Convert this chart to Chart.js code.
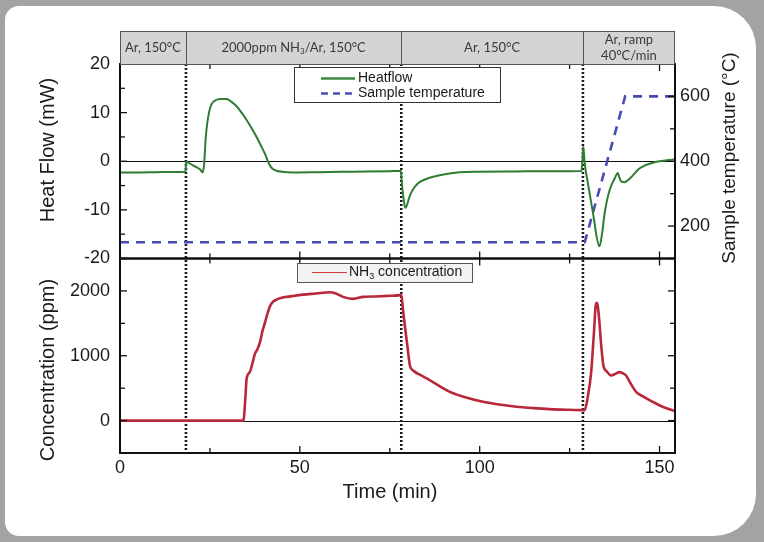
<!DOCTYPE html>
<html>
<head>
<meta charset="utf-8">
<script src="https://cdn.jsdelivr.net/npm/chart.js@4.4.1/dist/chart.umd.min.js"></script>
<style>
  body { margin: 0; background: #a3a3a3; }
  #wrap { position: relative; width: 764px; height: 542px; overflow: hidden; }
  #panel { position: absolute; left: 5px; top: 6px; width: 751px; height: 530px; background: #fff; border-radius: 14px 42px 42px 14px; }
  #chart { position: absolute; left: 0; top: 0; }
</style>
</head>
<body>
<div id="wrap">
  <div id="panel"></div>
  <canvas id="chart" width="764" height="542"></canvas>
</div>
<script>
// time axis (min)
const timeTicks = [0, 50, 100, 150];
const stepTimes = [18.33, 78.2, 128.7]; // gas switching, dotted lines

// heat flow (mW)
const heatTime = [0, 5, 10, 15, 18.2, 18.4, 19.0, 20.4, 21.5, 22.3, 23.0, 23.4, 23.8, 24.2, 24.8, 25.5, 26.5, 27.8, 29.6, 31.0,
  32.4, 33.8, 35.2, 36.6, 37.9, 39.2, 40.3, 41.0, 41.7, 42.5, 43.5, 45.5, 48, 55, 65, 75, 78.1, 78.3, 78.8, 79.3,
  79.8, 80.4, 81, 82, 83.3, 84.6, 86.1, 88.3, 90.7, 94.4, 100, 110, 120, 128.3, 128.6, 128.8, 129.1, 129.4, 130.2, 131.0,
  131.8, 132.5, 133.3, 134.0, 134.7, 135.4, 136.1, 136.8, 137.5, 138.0, 138.4, 138.8, 139.3, 140.3, 141.2, 142.1, 143.2, 144.4, 145.8, 147.2,
  148.6, 150, 152, 154.3];
const heatFlow = [-2.3, -2.3, -2.25, -2.2, -2.15, -0.1, -0.3, -0.9, -1.3, -1.7, -2.3, -0.5, 4.5, 7.5, 10.2, 11.8, 12.5, 12.8, 12.8, 12.2,
  11.3, 10.0, 8.5, 6.8, 5.1, 3.2, 1.5, 0.2, -0.9, -1.6, -1.95, -2.2, -2.3, -2.25, -2.15, -2.05, -2.0, -4, -7.5, -9.6,
  -9.0, -7.5, -6.4, -5.2, -4.3, -3.8, -3.4, -3.0, -2.6, -2.25, -2.15, -2.1, -2.05, -2.0, 0.5, 3.0, 0.5, -1.5, -5, -8.5,
  -12, -15.5, -17.5, -15, -10.9, -8.0, -6.0, -4.6, -3.6, -2.8, -2.4, -3.3, -4.1, -4.3, -3.9, -3.3, -2.4, -1.5, -0.9, -0.5,
  -0.2, 0.0, 0.2, 0.4];
const heatTicks = [-20, -10, 0, 10, 20];

// sample temperature (°C)
const tempTime = [0, 129.2, 140.45, 154.3];
const tempValue = [150, 150, 600, 600];
const tempTicks = [200, 400, 600];

// NH3 concentration (ppm)
const nh3Time = [0, 34.3, 34.8, 35.2, 36.1, 36.8, 37.5, 38.2, 38.9, 39.6, 40.3, 41.0, 41.7, 42.5, 43.5, 45, 46.3, 48.5, 50.9, 54.5,
  58.3, 60, 62, 64.8, 67.6, 71, 75, 77.8, 78.2, 78.7, 79.2, 79.9, 80.6, 81.5, 84, 87, 89.5, 91.7, 96, 100.9,
  105.5, 110.2, 115, 119.4, 124, 129.2, 130, 131, 131.7, 132.4, 132.8, 133.3, 133.8, 134.4, 135.3, 136.6, 137.7, 138.9, 139.8, 140.7,
  142.0, 143.5, 145.5, 148.1, 151, 154.3];
const nh3Conc = [0, 0, 300, 646, 748, 880, 1028, 1100, 1206, 1380, 1511, 1650, 1765, 1830, 1867, 1895, 1908, 1925, 1943, 1960,
  1979, 1960, 1908, 1878, 1908, 1915, 1925, 1935, 1943, 1700, 1460, 1150, 849, 773, 690, 595, 510, 443, 360, 290,
  248, 214, 192, 177, 168, 162, 350, 748, 1300, 1817, 1780, 1511, 1150, 849, 760, 696, 720, 748, 730, 696,
  570, 443, 370, 290, 210, 147];
const concTicks = [0, 1000, 2000];

const segLabels = [
  [[{ t: 'Ar, 150°C' }]],
  [[{ t: '2000ppm NH' }, { t: '3', sub: true }, { t: '/Ar, 150°C' }]],
  [[{ t: 'Ar, 150°C' }]],
  [[{ t: 'Ar, ramp' }], [{ t: '40°C/min' }]]
];

const FONT = "'Liberation Sans', Arial, sans-serif";
const pts = (xs, ys) => xs.map((x, i) => ({ x: x, y: ys[i] }));
const fixTicks = (vals) => (scale) => { scale.ticks = vals.map((v) => ({ value: v })); };
const plain = (v) => String(v);

function richText(ctx, parts, x, y, size, align) {
  const subSize = Math.round(size * 0.65);
  let w = 0;
  parts.forEach((p) => {
    ctx.font = (p.sub ? subSize : size) + 'px ' + ctx._fam;
    w += ctx.measureText(p.t).width;
  });
  let cx = align === 'center' ? x - w / 2 : x;
  ctx.textAlign = 'left';
  ctx.textBaseline = 'middle';
  parts.forEach((p) => {
    ctx.font = (p.sub ? subSize : size) + 'px ' + ctx._fam;
    ctx.fillText(p.t, cx, p.sub ? y + size * 0.32 : y);
    cx += ctx.measureText(p.t).width;
  });
}

const decor = {
  id: 'decor',
  beforeDatasetsDraw(chart) {
    const { ctx, chartArea: a, scales: s } = chart;
    ctx.save();
    // zero lines
    ctx.strokeStyle = '#111';
    ctx.lineWidth = 1;
    [[s.yH, 0], [s.yC, 0]].forEach(([sc, v]) => {
      const y = Math.round(sc.getPixelForValue(v)) + 0.5;
      ctx.beginPath(); ctx.moveTo(a.left, y); ctx.lineTo(a.right, y); ctx.stroke();
    });
    // dotted step lines
    ctx.strokeStyle = '#1a1a1a';
    ctx.lineWidth = 2.6;
    ctx.setLineDash([2, 2]);
    stepTimes.forEach((t) => {
      const x = s.x.getPixelForValue(t);
      ctx.beginPath(); ctx.moveTo(x, a.top); ctx.lineTo(x, a.bottom); ctx.stroke();
    });
    ctx.restore();
  },
  afterDraw(chart) {
    const { ctx, chartArea: a, scales: s } = chart;
    ctx.save();
    ctx._fam = FONT;
    const mid = s.yH.bottom;

    // inward ticks
    ctx.strokeStyle = '#111';
    ctx.lineWidth = 1.3;
    const tick = (x1, y1, x2, y2) => { ctx.beginPath(); ctx.moveTo(x1, y1); ctx.lineTo(x2, y2); ctx.stroke(); };
    for (let v = -20; v <= 20; v += 5) {
      const y = s.yH.getPixelForValue(v), L = v % 10 === 0 ? 7 : 5;
      tick(a.left, y, a.left + L, y);
    }
    for (let v = 200; v <= 600; v += 100) {
      const y = s.yT.getPixelForValue(v), L = v % 200 === 0 ? 7 : 5;
      tick(a.right, y, a.right - L, y);
    }
    for (let v = -500; v <= 2500; v += 500) {
      const y = s.yC.getPixelForValue(v), L = v % 1000 === 0 ? 7 : 5;
      tick(a.left, y, a.left + L, y);
      tick(a.right, y, a.right - L, y);
    }
    for (let v = 25; v < 155; v += 25) {
      const x = s.x.getPixelForValue(v), L = v % 50 === 0 ? 7 : 5;
      tick(x, a.bottom, x, a.bottom - L);
      tick(x, a.top, x, a.top + L);
      tick(x, mid - L, x, mid + L);
    }

    // panel frames
    ctx.lineWidth = 2;
    ctx.strokeRect(a.left, a.top, a.right - a.left, mid - a.top);
    ctx.strokeRect(a.left, mid, a.right - a.left, a.bottom - mid);

    // header band
    const bTop = 31, bH = a.top - bTop;
    ctx.fillStyle = '#d4d4d7';
    ctx.fillRect(a.left, bTop, a.right - a.left, bH);
    ctx.strokeStyle = '#555';
    ctx.lineWidth = 1;
    ctx.strokeRect(a.left + 0.5, bTop + 0.5, a.right - a.left - 1, bH);
    const edges = [a.left].concat(stepTimes.map((t) => s.x.getPixelForValue(t)), [a.right]);
    edges.slice(1, -1).forEach((x) => tick(Math.round(x) + 0.5, bTop, Math.round(x) + 0.5, a.top));
    ctx.fillStyle = '#3a3a3a';
    ctx._fam = "Lato, 'Open Sans', sans-serif";
    segLabels.forEach((lines, i) => {
      const cx = (edges[i] + edges[i + 1]) / 2;
      const lh = 16, y0 = bTop + bH / 2 - (lines.length - 1) * lh / 2;
      lines.forEach((ln, j) => richText(ctx, ln, cx, y0 + j * lh, 13, 'center'));
    });
    ctx._fam = FONT;

    // legends
    ctx.fillStyle = '#fff';
    ctx.fillRect(294, 67, 207, 36);
    ctx.strokeStyle = '#333';
    ctx.strokeRect(294.5, 67.5, 206, 35);
    ctx.lineWidth = 2.5;
    ctx.strokeStyle = '#3a8a3e';
    tick(321, 78.5, 355, 78.5);
    ctx.strokeStyle = '#4a4ab4';
    ctx.setLineDash([7, 5]);
    tick(321, 93.5, 356, 93.5);
    ctx.setLineDash([]);
    ctx.fillStyle = '#1a1a1a';
    richText(ctx, [{ t: 'Heatflow' }], 358, 78, 14, 'left');
    richText(ctx, [{ t: 'Sample temperature' }], 358, 93, 14, 'left');

    ctx.fillStyle = '#f3f3f3';
    ctx.fillRect(297, 263, 176, 20);
    ctx.strokeStyle = '#555';
    ctx.lineWidth = 1;
    ctx.strokeRect(297.5, 263.5, 175, 19);
    ctx.strokeStyle = '#d23b3b';
    ctx.lineWidth = 1.2;
    tick(312, 272.5, 347, 272.5);
    ctx.fillStyle = '#1a1a1a';
    richText(ctx, [{ t: 'NH' }, { t: '3', sub: true }, { t: ' concentration' }], 349, 272, 14, 'left');

    // axis titles
    ctx.font = '20px ' + FONT;
    ctx.textAlign = 'center';
    ctx.textBaseline = 'middle';
    const vText = (txt, x, y, ang) => { ctx.save(); ctx.translate(x, y); ctx.rotate(ang); ctx.fillText(txt, 0, 0); ctx.restore(); };
    vText('Heat Flow (mW)', 48, 150, -Math.PI / 2);
    vText('Concentration (ppm)', 48, 370, -Math.PI / 2);
    ctx.font = '19px ' + FONT;
    vText('Sample temperature (°C)', 730, 158, -Math.PI / 2);
    ctx.font = '20px ' + FONT;
    ctx.fillText('Time (min)', 390, 492);
    ctx.restore();
  }
};

const tickFont = { family: FONT, size: 18 };
const noGrid = { display: false, drawTicks: false };
const noBorder = { display: false };

new Chart(document.getElementById('chart'), {
  type: 'line',
  data: {
    datasets: [
      { label: 'Heatflow', data: pts(heatTime, heatFlow), yAxisID: 'yH', borderColor: '#2f7d33', borderWidth: 2, cubicInterpolationMode: 'monotone' },
      { label: 'Sample temperature', data: pts(tempTime, tempValue), yAxisID: 'yT', borderColor: '#4a4ab4', borderWidth: 2.6, borderDash: [9, 7] },
      { label: 'NH3 concentration', data: pts(nh3Time, nh3Conc), yAxisID: 'yC', borderColor: '#b8283a', borderWidth: 2.6, cubicInterpolationMode: 'monotone' }
    ]
  },
  options: {
    responsive: false,
    animation: false,
    devicePixelRatio: 1,
    layout: { padding: { top: 64, left: 0, right: 0, bottom: 0 } },
    elements: { point: { radius: 0 } },
    plugins: { legend: { display: false }, tooltip: { enabled: false } },
    scales: {
      x: {
        type: 'linear', position: 'bottom', min: 0, max: 154.3,
        afterBuildTicks: fixTicks(timeTicks),
        afterFit: (sc) => { sc.height = 89; },
        ticks: { font: tickFont, color: '#1a1a1a', padding: 4, maxRotation: 0, callback: plain },
        grid: noGrid, border: noBorder
      },
      yC: {
        type: 'linear', position: 'left', stack: 'L', weight: 1, min: -500, max: 2500,
        afterBuildTicks: fixTicks(concTicks),
        afterFit: (sc) => { sc.width = 120; },
        ticks: { font: tickFont, color: '#1a1a1a', padding: 10, callback: plain },
        grid: noGrid, border: noBorder
      },
      yH: {
        type: 'linear', position: 'left', stack: 'L', weight: 2, min: -20, max: 20,
        afterBuildTicks: fixTicks(heatTicks),
        afterFit: (sc) => { sc.width = 120; },
        ticks: { font: tickFont, color: '#1a1a1a', padding: 10, callback: plain },
        grid: noGrid, border: noBorder
      },
      yT: {
        type: 'linear', position: 'right', stack: 'R', weight: 1, min: 100, max: 700,
        afterBuildTicks: fixTicks(tempTicks),
        afterFit: (sc) => { sc.width = 89; },
        ticks: { font: tickFont, color: '#1a1a1a', padding: 5, callback: plain },
        grid: noGrid, border: noBorder
      },
      yR2: {
        type: 'linear', position: 'right', stack: 'R', weight: 2, min: -500, max: 2500,
        afterFit: (sc) => { sc.width = 89; },
        ticks: { display: false },
        grid: noGrid, border: noBorder
      }
    }
  },
  plugins: [decor]
});
</script>
</body>
</html>
